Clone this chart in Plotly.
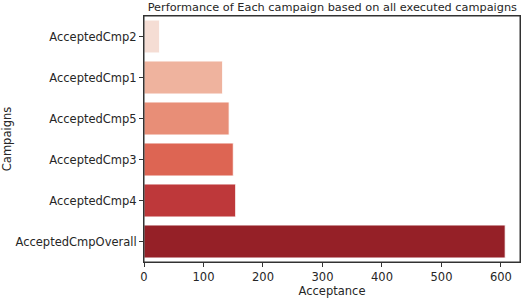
import plotly.graph_objects as go

campaigns = ["AcceptedCmp2", "AcceptedCmp1", "AcceptedCmp5", "AcceptedCmp3", "AcceptedCmp4", "AcceptedCmpOverall"]
acceptance = [26, 132, 143, 150, 154, 607]
colors = ["#f5ddd4", "#efb39e", "#e88e77", "#dd6553", "#be383a", "#952027"]
x_ticks = [0, 100, 200, 300, 400, 500, 600]

fig = go.Figure(go.Bar(
    x=acceptance, y=campaigns, orientation="h",
    marker=dict(color=colors, line=dict(color="white", width=0.8)),
    width=0.8,
))

font = dict(family="DejaVu Sans", size=11.5, color="#262626")
fig.update_layout(
    width=525, height=300,
    margin=dict(l=144, r=5, t=16, b=38),
    paper_bgcolor="white", plot_bgcolor="white",
    font=font,
    showlegend=False,
    title=dict(text="Performance of Each campaign based on all executed campaigns",
               x=0.633, xanchor="center", y=0.99, yanchor="top",
               font=dict(family="DejaVu Sans", size=11.3, color="#262626")),
    shapes=[dict(type="rect", xref="paper", yref="paper", x0=0, x1=1, y0=0, y1=1,
                 line=dict(color="#333", width=1), layer="above")],
)
fig.update_xaxes(
    range=[0, 632], tickvals=x_ticks, ticks="outside", ticklen=4, tickcolor="#333",
    showline=True, linecolor="#333", linewidth=1, mirror=True, showgrid=False, zeroline=False,
    automargin=False,
    title=dict(text="Acceptance", standoff=3, font=font),
)
fig.update_yaxes(
    categoryorder="array", categoryarray=campaigns, autorange="reversed",
    ticks="outside", ticklen=4, tickcolor="#333",
    showline=True, linecolor="#333", linewidth=1, mirror=True, showgrid=False,
    automargin=False,
    title=dict(text="Campaigns", standoff=4, font=font),
)
fig.write_html("out.html", config={"displayModeBar": False},
               post_script="document.body.style.margin='0';document.body.style.overflow='hidden';")
